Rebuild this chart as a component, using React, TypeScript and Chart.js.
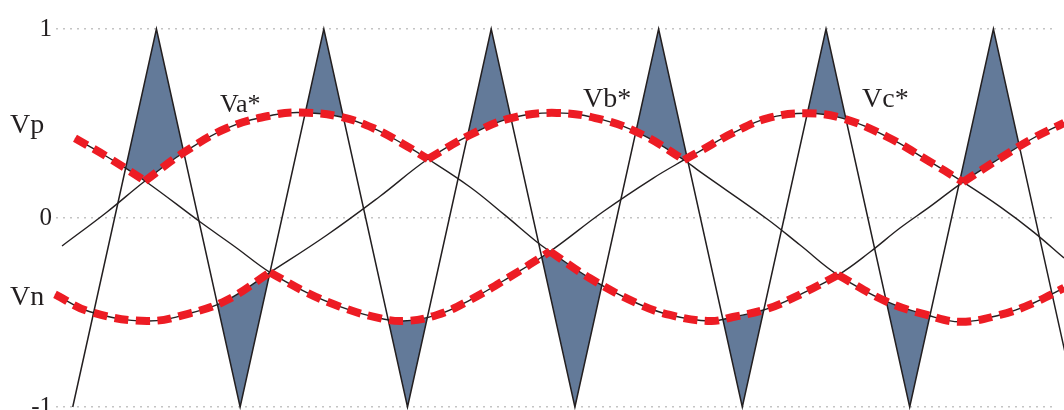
import { useEffect, useRef } from 'react';
import { Chart, registerables } from 'chart.js';

Chart.register(...registerables);

// Triangular carrier: vertices every half carrier period (time in carrier periods)
const carrierT = [0, 0.5, 1, 1.5, 2, 2.5, 3, 3.5, 4, 4.5, 5, 5.5, 6];
const carrierV = [-1, 1, -1, 1, -1, 1, -1, 1, -1, 1, -1, 1, -1];

// Phase references Va*, Vb*, Vc*
const vaT = [-0.064, 0.205, 0.4317, 0.659, 0.922, 1.196, 1.358, 1.597, 1.794, 1.973, 2.1223, 2.373, 2.582, 2.773, 2.8512, 3.09, 3.371, 3.568, 3.807, 3.944, 4.148, 4.345, 4.5717, 4.763, 4.942, 5.121, 5.3184, 5.539, 5.737, 5.922];
const vaV = [-0.148, 0.032, 0.196, 0.344, 0.476, 0.545, 0.558, 0.536, 0.476, 0.392, 0.312, 0.164, 0.015, -0.127, -0.177, -0.319, -0.451, -0.513, -0.545, -0.524, -0.481, -0.405, -0.302, -0.18, -0.053, 0.06, 0.19, 0.316, 0.422, 0.503];

const vbT = [-0.106, 0.103, 0.444, 0.7, 0.922, 1.1784, 1.519, 1.836, 2.1223, 2.373, 2.612, 2.893, 3.168, 3.407, 3.6517, 3.747, 4.148, 4.345, 4.5717, 4.864, 5.103, 5.301, 5.539, 5.737, 5.922];
const vbV = [-0.404, -0.496, -0.545, -0.504, -0.434, -0.288, -0.09, 0.115, 0.312, 0.439, 0.527, 0.556, 0.519, 0.439, 0.307, 0.245, -0.005, -0.143, -0.302, -0.443, -0.513, -0.549, -0.513, -0.451, -0.37];

const vcT = [0.0135, 0.205, 0.4317, 0.76, 0.969, 1.1784, 1.399, 1.597, 1.794, 1.973, 2.176, 2.373, 2.612, 2.8512, 3.168, 3.466, 3.6517, 3.747, 3.944, 4.148, 4.386, 4.601, 4.864, 5.103, 5.3184, 5.539, 5.737, 5.922];
const vcV = [0.422, 0.324, 0.196, -0.02, -0.152, -0.288, -0.395, -0.469, -0.522, -0.545, -0.513, -0.434, -0.311, -0.177, 0.033, 0.21, 0.307, 0.354, 0.45, 0.527, 0.554, 0.527, 0.43, 0.307, 0.19, 0.06, -0.072, -0.212];

// Upper envelope Vp: which phase is largest between successive crossings
const vpPhases = ['c', 'a', 'b', 'c', 'a'];
const vpCrossings = [0.0135, 0.4317, 2.1223, 3.6517, 5.3184, 5.922];
// Lower envelope Vn: which phase is smallest between successive crossings
const vnPhases = ['b', 'c', 'a', 'b'];
const vnCrossings = [-0.106, 1.1784, 2.8512, 4.5717, 5.922];

// Shading covers the complete carrier triangles (between these carrier zero crossings)
const shadeFromT = 0.25;
const shadeToT = 5.75;

const yTicks = [-1, 0, 1];

const FONT = '"Liberation Serif", "Times New Roman", serif';
const INK = '#231f20';
const RED = '#ed1c24';
const SHADE = '#637a99';

type Pt = { x: number; y: number };
const zip = (t: number[], v: number[]): Pt[] => t.map((x, i) => ({ x, y: v[i] }));

const phases: Record<string, Pt[]> = {
  a: zip(vaT, vaV),
  b: zip(vbT, vbV),
  c: zip(vcT, vcV),
};
const arc = (k: string, from: number, to: number) =>
  phases[k].filter((p) => p.x >= from - 1e-9 && p.x <= to + 1e-9);

const carrier = zip(carrierT, carrierV);
const carrierWindow: Pt[] = [
  { x: shadeFromT, y: 0 },
  ...carrier.filter((p) => p.x > shadeFromT && p.x < shadeToT),
  { x: shadeToT, y: 0 },
];

// Curve names, anchored in data coordinates (left edge, text baseline)
const annotations = [
  { text: 'Vp', t: -0.375, v: 0.45, size: 28 },
  { text: 'Vn', t: -0.375, v: -0.46, size: 28 },
  { text: 'Va*', t: 0.88, v: 0.561, size: 26 },
  { text: 'Vb*', t: 3.048, v: 0.587, size: 28 },
  { text: 'Vc*', t: 4.715, v: 0.587, size: 28 },
];

const labelPlugin = {
  id: 'curveLabels',
  afterDraw(chart: any) {
    const { ctx, scales } = chart;
    ctx.save();
    ctx.fillStyle = INK;
    ctx.textAlign = 'left';
    ctx.textBaseline = 'alphabetic';
    for (const a of annotations) {
      ctx.font = `${a.size}px ${FONT}`;
      ctx.fillText(a.text, scales.x.getPixelForValue(a.t), scales.y.getPixelForValue(a.v));
    }
    ctx.restore();
  },
};

export default function App() {
  const ref = useRef<HTMLCanvasElement | null>(null);

  useEffect(() => {
    if (!ref.current) return;

    const WINDOW = 1;
    const SMOOTH = 0.4;
    const dash = {
      borderColor: RED,
      borderWidth: 8,
      borderDash: [14, 7.5],
      borderCapStyle: 'butt',
      tension: SMOOTH,
      order: 0,
    };

    const datasets: any[] = [
      {
        label: 'carrier',
        data: carrier,
        borderColor: INK,
        borderWidth: 1.5,
        tension: 0,
        fill: false,
        order: 1,
      },
      {
        label: 'window',
        data: carrierWindow,
        borderColor: 'transparent',
        borderWidth: 0,
        tension: 0,
        fill: false,
        order: 5,
      },
      ...(['a', 'b', 'c'] as const).map((k) => ({
        label: `V${k}*`,
        data: phases[k],
        borderColor: INK,
        borderWidth: 1.4,
        tension: SMOOTH,
        fill: false,
        order: 2,
      })),
      ...vpPhases.map((k, i) => ({
        ...dash,
        label: 'Vp',
        data: arc(k, vpCrossings[i], vpCrossings[i + 1]),
        fill: { target: WINDOW, above: 'transparent', below: SHADE },
      })),
      ...vnPhases.map((k, i) => ({
        ...dash,
        label: 'Vn',
        data: arc(k, vnCrossings[i], vnCrossings[i + 1]),
        fill: { target: WINDOW, above: SHADE, below: 'transparent' },
      })),
    ];

    datasets.forEach((d) => {
      d.pointRadius = 0;
      d.pointHoverRadius = 0;
      d.clip = false;
    });

    const chart = new Chart(ref.current, {
      type: 'line',
      data: { datasets },
      options: {
        animation: false,
        responsive: false,
        devicePixelRatio: 1,
        events: [],
        layout: { padding: { top: 29, right: 7, bottom: 3, left: 0 } },
        plugins: {
          legend: { display: false },
          tooltip: { enabled: false },
          filler: { drawTime: 'beforeDatasetsDraw', propagate: true },
        },
        scales: {
          x: { type: 'linear', display: false, min: -0.1, max: 5.88 },
          y: {
            type: 'linear',
            min: -1,
            max: 1,
            afterBuildTicks: (s: any) => {
              s.ticks = yTicks.map((value) => ({ value }));
            },
            afterFit: (s: any) => {
              s.width = 56;
              s.paddingTop = 0;
              s.paddingBottom = 0;
            },
            ticks: {
              color: INK,
              padding: 4,
              font: { family: FONT, size: 25 },
            },
            grid: { color: '#c4c4c4', lineWidth: 1.5, drawTicks: false },
            border: { display: false, dash: [2, 5] },
          },
        },
      } as any,
      plugins: [labelPlugin],
    });

    return () => chart.destroy();
  }, []);

  return (
    <div style={{ position: 'absolute', left: 0, top: 0, width: 1064, height: 410, background: '#fff' }}>
      <canvas ref={ref} width={1064} height={410} style={{ display: 'block' }} />
    </div>
  );
}
